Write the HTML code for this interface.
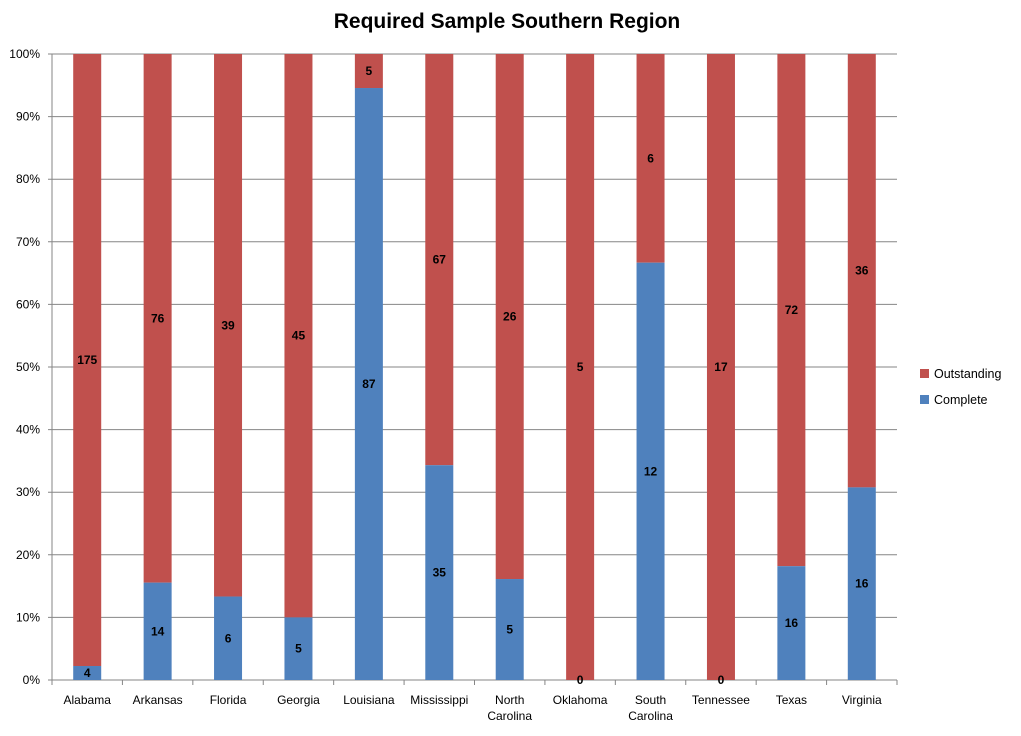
<!DOCTYPE html>
<html><head><meta charset="utf-8"><style>
body{margin:0;background:#fff;}
svg{font-family:"Liberation Sans",sans-serif;}
</style></head><body>
<svg id="chart" width="1021" height="731" xmlns="http://www.w3.org/2000/svg">
<text x="507" y="28" text-anchor="middle" font-size="21" font-weight="bold">Required Sample Southern Region</text>
<g id="grid"></g>
<g id="bars"></g>
<g id="axes"></g>
<g>
<rect x="920" y="369" width="9" height="9" fill="#C0504D"/>
<text x="934" y="378" font-size="12.5">Outstanding</text>
<rect x="920" y="395" width="9" height="9" fill="#4F81BD"/>
<text x="934" y="404" font-size="12.5">Complete</text>
</g>
</svg>
<script>
const categories=[["Alabama"],["Arkansas"],["Florida"],["Georgia"],["Louisiana"],["Mississippi"],["North","Carolina"],["Oklahoma"],["South","Carolina"],["Tennessee"],["Texas"],["Virginia"]];
const complete=[4,14,6,5,87,35,5,0,12,0,16,16];
const outstanding=[175,76,39,45,5,67,26,5,6,17,72,36];
const yTicks=["0%","10%","20%","30%","40%","50%","60%","70%","80%","90%","100%"];
const NS="http://www.w3.org/2000/svg";
const L=52,R=897,T=54,B=680,bw=28;
const step=(R-L)/categories.length;
const xc=i=>L+step*(i+0.5);
const y=p=>B-(B-T)*p;
function mk(tag,attrs,parent,text){const e=document.createElementNS(NS,tag);for(const k in attrs)e.setAttribute(k,attrs[k]);if(text!==undefined)e.textContent=text;parent.appendChild(e);return e;}
const grid=document.getElementById('grid'),bars=document.getElementById('bars'),axes=document.getElementById('axes');
yTicks.forEach((t,i)=>{const yy=y(i/10);
 const ln=mk('line',{x1:L-4,x2:R,y1:yy,y2:yy,stroke:i==0?'#868686':'#868686','stroke-width':1},grid);
 
 
 const tx=mk('text',{x:L-12,y:yy+4,'text-anchor':'end','font-size':12},axes,t);
 
 
});
mk('line',{x1:L,x2:L,y1:T,y2:B,stroke:'#868686'},axes);
for(let i=0;i<=categories.length;i++){mk('line',{x1:L+step*i,x2:L+step*i,y1:B,y2:B+5,stroke:'#868686'},axes);}
categories.forEach((c,i)=>{
 const tot=complete[i]+outstanding[i];const pc=complete[i]/tot;
 const x=xc(i)-bw/2;
 const r1=mk('rect',{x:x,y:y(1),width:bw,height:y(pc)-y(1),fill:'#C0504D'},bars);
 
 
 const r2=mk('rect',{x:x,y:y(pc),width:bw,height:B-y(pc),fill:'#4F81BD'},bars);
 
 
 const l1=mk('text',{x:xc(i),y:(y(1)+y(pc))/2+4,'text-anchor':'middle','font-size':12,'font-weight':'bold'},bars,outstanding[i]);
 
 
 const l2=mk('text',{x:xc(i),y:(y(pc)+B)/2+4,'text-anchor':'middle','font-size':12,'font-weight':'bold'},bars,complete[i]);
 
 
 c.forEach((s,j)=>{const t=mk('text',{x:xc(i),y:704+j*16,'text-anchor':'middle','font-size':12},axes,s);
  
  });
});
</script>
</body></html>
